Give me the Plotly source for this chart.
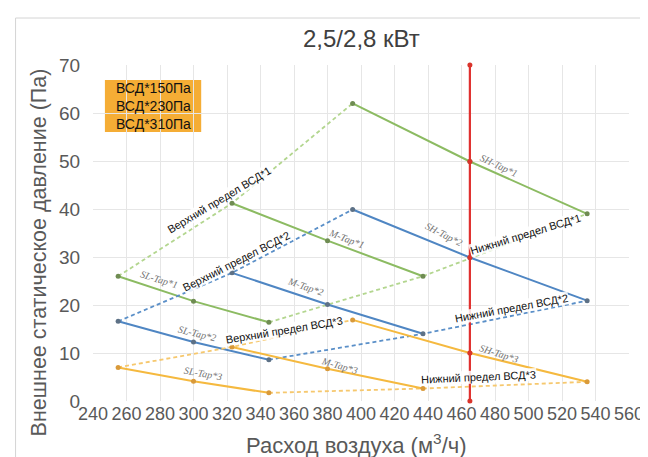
import plotly.graph_objects as go

# ---- data ----
x_sl = [255, 300, 345]
x_m = [323, 380, 437]
x_sh = [395, 465, 535]

vsd1_sl = [26.0, 20.8, 16.4]
vsd1_m = [41.2, 33.4, 26.0]
vsd1_sh = [62.0, 49.9, 39.0]

vsd2_sl = [16.6, 12.3, 8.6]
vsd2_m = [26.7, 20.1, 14.0]
vsd2_sh = [39.9, 29.9, 20.9]

vsd3_sl = [7.0, 4.1, 1.7]
vsd3_m = [11.25, 6.7, 2.6]
vsd3_sh = [16.9, 10.0, 4.0]

red_x = 465
red_y = [0, 10.0, 29.9, 49.9, 70]

x_ticks = list(range(240, 561, 20))
y_ticks = list(range(0, 71, 10))

legend_lines = ["ВСД*150Па", "ВСД*230Па", "ВСД*310Па"]
title_text = "2,5/2,8 кВт"
x_title = "Расход воздуха (м<sup>3</sup>/ч)"
y_title = "Внешнее статическое давление (Па)"

# ---- geometry helpers (plot area in pixels) ----
L, R, T, B = 85, 625, 57, 393
W, H = 648, 457
def px2x(px):
    return 240 + (px - L) * 320 / (R - L)
def py2y(py):
    return (B - py) * 70 / (B - T)
def pxp(px):
    return (px - L) / (R - L)
def pyp(py):
    return (B - py) / (B - T)

fig = go.Figure()

groups = [
    (vsd1_sl, vsd1_m, vsd1_sh, "#8cbb62", "#b3d68f", "#6f8c52"),
    (vsd2_sl, vsd2_m, vsd2_sh, "#4f86c3", "#5a8fc8", "#5d7186"),
    (vsd3_sl, vsd3_m, vsd3_sh, "#f5b93f", "#f6c86e", "#d99a3a"),
]

for sl, m, sh, col, dcol, mcol in groups:
    fig.add_trace(go.Scatter(x=[x_sl[0], x_m[0], x_sh[0]], y=[sl[0], m[0], sh[0]],
                             mode="lines", line=dict(color=dcol, width=1.8, dash="4px,3px"),
                             hoverinfo="skip", showlegend=False))
    fig.add_trace(go.Scatter(x=[x_sl[2], x_m[2], x_sh[2]], y=[sl[2], m[2], sh[2]],
                             mode="lines", line=dict(color=dcol, width=1.8, dash="4px,3px"),
                             hoverinfo="skip", showlegend=False))
    for xs, ys in [(x_sl, sl), (x_m, m), (x_sh, sh)]:
        fig.add_trace(go.Scatter(x=xs, y=ys, mode="lines+markers",
                                 line=dict(color=col, width=2),
                                 marker=dict(color=mcol, size=5),
                                 showlegend=False))

fig.add_trace(go.Scatter(x=[red_x] * len(red_y), y=red_y, mode="lines+markers",
                         line=dict(color="#e0302e", width=2.2),
                         marker=dict(color="#d9342b", size=5),
                         cliponaxis=False, showlegend=False))

ann = []
limit_labels = [
    ("Верхний предел ВСД*1", 212, 192, -31),
    ("Верхний предел ВСД*2", 230, 253, -27),
    ("Верхний предел ВСД*3", 278, 322, -9.5),
    ("Нижний предел ВСД*1", 521, 226, -17),
    ("Нижний предел ВСД*2", 507, 300, -10.5),
    ("Нижний предел ВСД*3", 473, 369, -2.5),
]
for t, px, py, a in limit_labels:
    ann.append(dict(text=t, x=px2x(px), y=py2y(py), xref="x", yref="y",
                    showarrow=False, textangle=a, xanchor="center", yanchor="middle",
                    font=dict(size=11, color="#111111", family="Liberation Sans, Arial"),
                    bgcolor="rgba(255,255,255,0.85)", borderpad=0))

tap_labels = [
    ("SL-Tap*1", 152, 271, 17), ("M-Tap*1", 340, 230, 21), ("SH-Tap*1", 494, 157, 25),
    ("SL-Tap*2", 190, 325, 14), ("M-Tap*2", 299, 278, 19), ("SH-Tap*2", 439, 226, 27),
    ("SL-Tap*3", 196, 365, 10), ("M-Tap*3", 333, 357, 16), ("SH-Tap*3", 494, 345, 18),
]
for t, px, py, a in tap_labels:
    ann.append(dict(text="<i>" + t + "</i>", x=px2x(px), y=py2y(py), xref="x", yref="y",
                    showarrow=False, textangle=a, xanchor="center", yanchor="middle",
                    font=dict(size=10, color="#737373", family="Liberation Serif, serif")))

ann.append(dict(text="<br>".join(legend_lines), x=pxp(146), y=pyp(98), xref="paper", yref="paper",
                showarrow=False, xanchor="center", yanchor="middle", align="center",
                font=dict(size=14, color="#111111", family="Liberation Sans, Arial")))

ann.append(dict(text=title_text, x=pxp(355), y=pyp(30), xref="paper", yref="paper",
                xanchor="center", yanchor="middle",
                showarrow=False, font=dict(size=24, color="#404040", family="Liberation Sans, Arial")))
ann.append(dict(text=x_title, x=pxp(350), y=pyp(452), xref="paper", yref="paper",
                xanchor="center", yanchor="bottom",
                showarrow=False, font=dict(size=22, color="#595959", family="Liberation Sans, Arial")))
ann.append(dict(text=y_title, x=pxp(31), y=pyp(244), xref="paper", yref="paper",
                showarrow=False, textangle=-90, xanchor="center", yanchor="middle",
                font=dict(size=21.5, color="#595959", family="Liberation Sans, Arial")))

shapes = [
    dict(type="rect", xref="paper", yref="paper", x0=pxp(97), x1=pxp(194), y0=pyp(124), y1=pyp(72),
         fillcolor="#f5ad35", line=dict(width=0), layer="below"),
    dict(type="rect", xref="paper", yref="paper", x0=pxp(7), x1=pxp(641), y0=pyp(456), y1=pyp(10),
         fillcolor="rgba(0,0,0,0)", line=dict(color="#d4d4d4", width=1), layer="below"),
]

fig.update_layout(
    width=W, height=H,
    margin=dict(l=L, r=W - R, t=T, b=H - B),
    paper_bgcolor="white", plot_bgcolor="white",
    annotations=ann, shapes=shapes,
    font=dict(family="Liberation Sans, Arial", color="#595959"),
    xaxis=dict(range=[240, 560], tickvals=x_ticks, ticktext=[str(v) for v in x_ticks],
               tickangle=0,
               showgrid=True, gridcolor="#e6e6e6", zeroline=False, showline=False,
               tickfont=dict(size=18, color="#595959"), ticks="", ticklen=0),
    yaxis=dict(range=[0, 70], tickvals=y_ticks, showgrid=True, gridcolor="#e6e6e6",
               zeroline=False, showline=False,
               tickfont=dict(size=19, color="#595959"), ticks="outside", ticklen=8,
               tickcolor="rgba(0,0,0,0)"),
)

fig.write_html("out.html")
